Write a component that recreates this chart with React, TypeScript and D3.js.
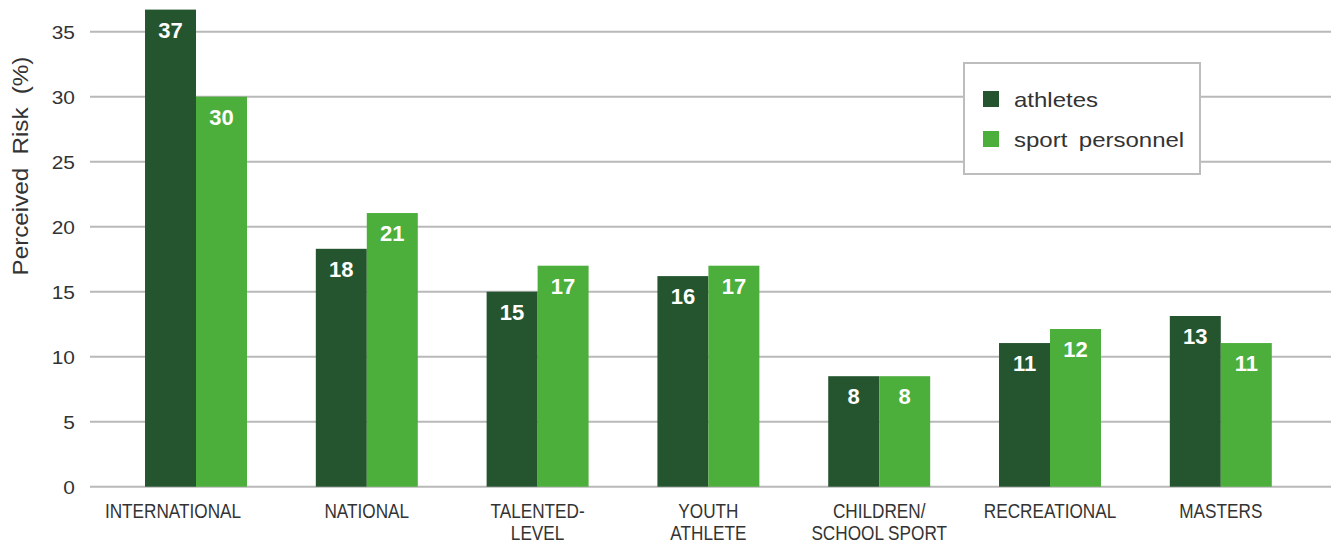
import React from "react";
import * as d3 from "d3";

const categories: string[][] = [
  ["INTERNATIONAL"],
  ["NATIONAL"],
  ["TALENTED-", "LEVEL"],
  ["YOUTH", "ATHLETE"],
  ["CHILDREN/", "SCHOOL SPORT"],
  ["RECREATIONAL"],
  ["MASTERS"],
];
const athletes = [36.7, 18.3, 15.0, 16.2, 8.5, 11.05, 13.13];
const athleteLabels = ["37", "18", "15", "16", "8", "11", "13"];
const personnel = [30.0, 21.05, 17.0, 17.0, 8.5, 12.13, 11.05];
const personnelLabels = ["30", "21", "17", "17", "8", "12", "11"];
const seriesNames = ["athletes", "sport personnel"];
const yTicks = [0, 5, 10, 15, 20, 25, 30, 35];
const colors = ["#25552e", "#4cae3b"];

const W = 1331;
const H = 543;
const FONT = "'Liberation Sans', Arial, Helvetica, sans-serif";

export default function App() {
  const y = d3.scaleLinear().domain([0, 35]).range([486.7, 31.7]);
  const x = d3
    .scaleBand<number>()
    .domain(categories.map((_, i) => i))
    .range([110.6, 1306.2])
    .paddingInner(0.403)
    .paddingOuter(0.2015);
  const inner = d3
    .scaleBand<number>()
    .domain([0, 1])
    .range([0, x.bandwidth()]);
  const series = [
    { values: athletes, labels: athleteLabels },
    { values: personnel, labels: personnelLabels },
  ];

  return (
    <div>
      <style>{`body{margin:0}`}</style>
      <svg width={W} height={H} style={{ display: "block", fontFamily: FONT }}>
        <rect x={0} y={0} width={W} height={H} fill="#fff" />
        {yTicks.map((t) => (
          <g key={t}>
            <line x1={90} x2={W} y1={y(t)} y2={y(t)} stroke="#b9b9b9" strokeWidth={2} />
            <text
              transform={`translate(75,${y(t)}) scale(1.1,1)`}
              dy="0.36em"
              textAnchor="end"
              fontSize={19}
              fill="#333"
            >
              {t}
            </text>
          </g>
        ))}
        <text
          transform={`translate(28,166) rotate(-90) scale(1.1,1)`}
          textAnchor="middle"
          fontSize={22}
          fill="#333"
          style={{ wordSpacing: "6px" }}
        >
          Perceived Risk (%)
        </text>
        {categories.map((c, i) => (
          <g key={i}>
            {series.map((s, k) => {
              const bx = (x(i) as number) + (inner(k) as number);
              const by = y(s.values[i]);
              return (
                <g key={k}>
                  <rect
                    x={bx}
                    y={by}
                    width={inner.bandwidth()}
                    height={y(0) - by}
                    fill={colors[k]}
                  />
                  <text
                    x={bx + inner.bandwidth() / 2}
                    y={by + 28}
                    textAnchor="middle"
                    fontSize={22}
                    fontWeight="bold"
                    fill="#fff"
                  >
                    {s.labels[i]}
                  </text>
                </g>
              );
            })}
            {c.map((line, j) => (
              <text
                key={j}
                transform={`translate(${(x(i) as number) + x.bandwidth() / 2 + (i === 0 ? -23 : 0)},${518 + j * 22}) scale(0.86,1)`}
                textAnchor="middle"
                fontSize={20}
                fill="#333"
              >
                {line}
              </text>
            ))}
          </g>
        ))}
        <g>
          <rect x={964} y={63} width={236} height={111} fill="#fff" stroke="#bdbdbd" strokeWidth={2} />
          {seriesNames.map((n, k) => (
            <g key={n}>
              <rect x={983} y={91 + k * 40} width={16} height={16} fill={colors[k]} />
              <text
                transform={`translate(1014,${107 + k * 40}) scale(1.2,1)`}
                fontSize={20}
                fill="#333"
                style={{ wordSpacing: "4px" }}
              >
                {n}
              </text>
            </g>
          ))}
        </g>
      </svg>
    </div>
  );
}
